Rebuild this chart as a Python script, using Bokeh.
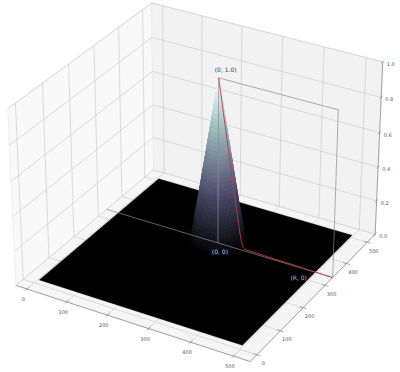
import numpy as np
from bokeh.plotting import figure
from bokeh.models import Range1d
from bokeh.embed import file_html
from bokeh.resources import INLINE

# ---- data ----
x_ticks = [0, 100, 200, 300, 400, 500]
y_ticks = [0, 100, 200, 300, 400, 500]
z_ticks = [0.0, 0.2, 0.4, 0.6, 0.8, 1.0]
x_limits = [-28, 539]
y_limits = [-28, 539]
z_limits = [0.0, 1.0]
surface_x = [3, 497]
surface_y = [15, 510]
centre = [258, 335]
radius = [0, 1.5, 3, 4.5, 6, 7.5, 9, 10.5, 12, 13.5, 15, 16.5, 18, 19.5, 21, 22.5, 24, 25.5, 27, 28.5,
          30, 31.5, 33, 34.5, 36, 37.5, 39, 40.5, 42, 43.5, 45, 46.5, 48, 49.5, 51, 52.5, 54, 55.5,
          57, 58.5, 60, 61.5, 63, 64.5, 66, 70, 75, 80]
height = [.955, .931, .907, .884, .860, .836, .812, .788, .764, .740, .716, .693, .669, .645, .621, .597, .573, .549, .525, .502,
          .478, .454, .430, .406, .382, .358, .334, .311, .287, .263, .239, .219, .200, .176, .153, .129, .105, .086,
          .067, .052, .038, .028, .019, .014, .010, .006, .003, 0]

# ---- camera: elevation 30, azimuth -60, distance 10, box aspect 4:4:3 ----
el, az, dist = np.radians(30), np.radians(-60), 10.0
box = np.array([4, 4, 3]) * 1.82946 / np.linalg.norm([4, 4, 3])
n = np.array([np.cos(el) * np.cos(az), np.cos(el) * np.sin(az), np.sin(el)])
u = np.cross([0, 0, 1], n); u /= np.linalg.norm(u)
v = np.cross(n, u)
SCALE, CX, CY = 2350.0, 198.2, 173.5


def pts(x, y, z):
    x, y, z = np.broadcast_arrays(np.asarray(x, float), np.asarray(y, float), np.asarray(z, float))
    w = np.stack([(x - x_limits[0]) / (x_limits[1] - x_limits[0]) * box[0],
                  (y - y_limits[0]) / (y_limits[1] - y_limits[0]) * box[1],
                  (z - z_limits[0]) / (z_limits[1] - z_limits[0]) * box[2]], -1) - box / 2
    d = dist - w @ n
    return w @ u / d, w @ v / d, d


def bone(t):
    r = np.interp(t, [0, .746, 1], [0, .652, 1])
    g = np.interp(t, [0, .365, .746, 1], [0, .319, .777, 1])
    b = np.interp(t, [0, .365, .746, 1], [0, .444, .777, 1])
    return "#%02x%02x%02x" % (int(r * 255), int(g * 255), int(b * 255))


p = figure(width=400, height=372, output_backend="svg", toolbar_location=None,
           x_range=Range1d((0 - CX) / SCALE, (400 - CX) / SCALE),
           y_range=Range1d((CY - 372) / SCALE, (CY - 0) / SCALE),
           min_border=0, outline_line_color=None)
p.axis.visible = False
p.grid.visible = False

x0, x1 = x_limits
y0, y1 = y_limits
z0, z1 = z_limits


def poly(xs, ys, zs, fill):
    a, b, _ = pts(xs, ys, zs)
    p.patch(list(a), list(b), fill_color=fill, line_color="#ebebeb", line_width=0.8)


def seg(xs, ys, zs, color="#cfcfcf", width=0.7, alpha=1.0):
    a, b, _ = pts(xs, ys, zs)
    p.line(list(a), list(b), line_color=color, line_width=width, line_alpha=alpha)


# panes
poly([x0, x0, x0, x0], [y0, y1, y1, y0], [z0, z0, z1, z1], "#f9f9f9")
poly([x0, x1, x1, x0], [y1, y1, y1, y1], [z0, z0, z1, z1], "#f2f2f2")
poly([x0, x1, x1, x0], [y0, y0, y1, y1], [z0, z0, z0, z0], "#f5f5f5")

# grid
for t in x_ticks:
    seg([t, t, t], [y0, y1, y1], [z0, z0, z1])
for t in y_ticks:
    seg([x1, x0, x0], [t, t, t], [z0, z0, z1])
for t in z_ticks:
    seg([x0, x0, x1], [y0, y1, y1], [t, t, t])

# axis lines and ticks
seg([x0, x1], [y0, y0], [z0, z0], "#808080", 0.7)
seg([x1, x1], [y0, y1], [z0, z0], "#808080", 0.7)
seg([x1, x1], [y1, y1], [z0, z1], "#808080", 0.7)
for t in x_ticks:
    seg([t, t], [y0 - 8, y0 + 8], [z0, z0], "#777777", 0.6)
for t in y_ticks:
    seg([x1 - 8, x1 + 8], [t, t], [z0, z0], "#777777", 0.6)
for t in z_ticks:
    seg([x1, x1], [y1 - 8, y1 + 8], [t, t], "#777777", 0.6)

# black floor of the surface
sx0, sx1 = surface_x
sy0, sy1 = surface_y
a, b, _ = pts([sx0, sx1, sx1, sx0], [sy0, sy0, sy1, sy1], [0, 0, 0, 0])
p.patch(list(a), list(b), fill_color="#000000", line_color="#000000", line_width=0.3)

# revolved peak, painted far to near
peak = max(height)
angles = np.radians(np.arange(0, 360, 4))
quads = []
for i in range(len(radius) - 1):
    for j, th in enumerate(angles):
        th2 = angles[(j + 1) % len(angles)]
        r1, r2 = radius[i], radius[i + 1]
        qx = np.array([r1 * np.cos(th), r2 * np.cos(th), r2 * np.cos(th2), r1 * np.cos(th2)]) + centre[0]
        qy = np.array([r1 * np.sin(th), r2 * np.sin(th), r2 * np.sin(th2), r1 * np.sin(th2)]) + centre[1]
        qz = np.array([height[i], height[i + 1], height[i + 1], height[i]])
        a, b, d = pts(qx, qy, qz)
        quads.append((d.mean(), list(a), list(b), bone((height[i] + height[i + 1]) / 2 / peak)))
quads.sort(key=lambda q: -q[0])
qc = [q[3] for q in quads]
p.patches([q[1] for q in quads], [q[2] for q in quads], fill_color=qc, line_color=qc, line_width=0.3)

# guide lines at y = centre
cy = centre[1]
seg([x0, x1], [cy, cy], [0, 0], "#8c8c8c", 0.7)
seg([centre[0], centre[0], x1, x1], [cy] * 4, [0, peak, peak, 0], "#8c8c8c", 0.7)
red_x = [centre[0] + r for r in radius if r <= 66] + [x1]
red_z = [h for r, h in zip(radius, height) if r <= 66] + [0]
seg(red_x, [cy] * len(red_x), red_z, "#c0364d", 0.9)


def label(x, y, z, text, color, size, dx, dy):
    a, b, _ = pts(x, y, z)
    p.text([float(a)], [float(b)], text=[text], text_color=color, text_font_size=size,
           text_align="center", text_baseline="middle", x_offset=dx, y_offset=dy,
           text_font={"value": "DejaVu Sans"})


for t in x_ticks:
    label(t, y0, z0, str(t), "#555555", "5px", -3.5, 10)
for t in y_ticks:
    label(x1, t, z0, str(t), "#555555", "5px", 6.5, 8.5)
for t in z_ticks:
    label(x1, y1, t, "%.1f" % t, "#555555", "5px", 8, 2)

label(centre[0], cy, peak, "(0, 1.0)", "#444444", "6px", 7, -8)
label(centre[0], cy, 0, "(0, 0)", "#dddddd", "6px", 2, 9)
label(x1, cy, 0, "(R, 0)", "#a9c6e0", "6px", -34, 0)

open("out.html", "w").write(file_html(p, INLINE))
